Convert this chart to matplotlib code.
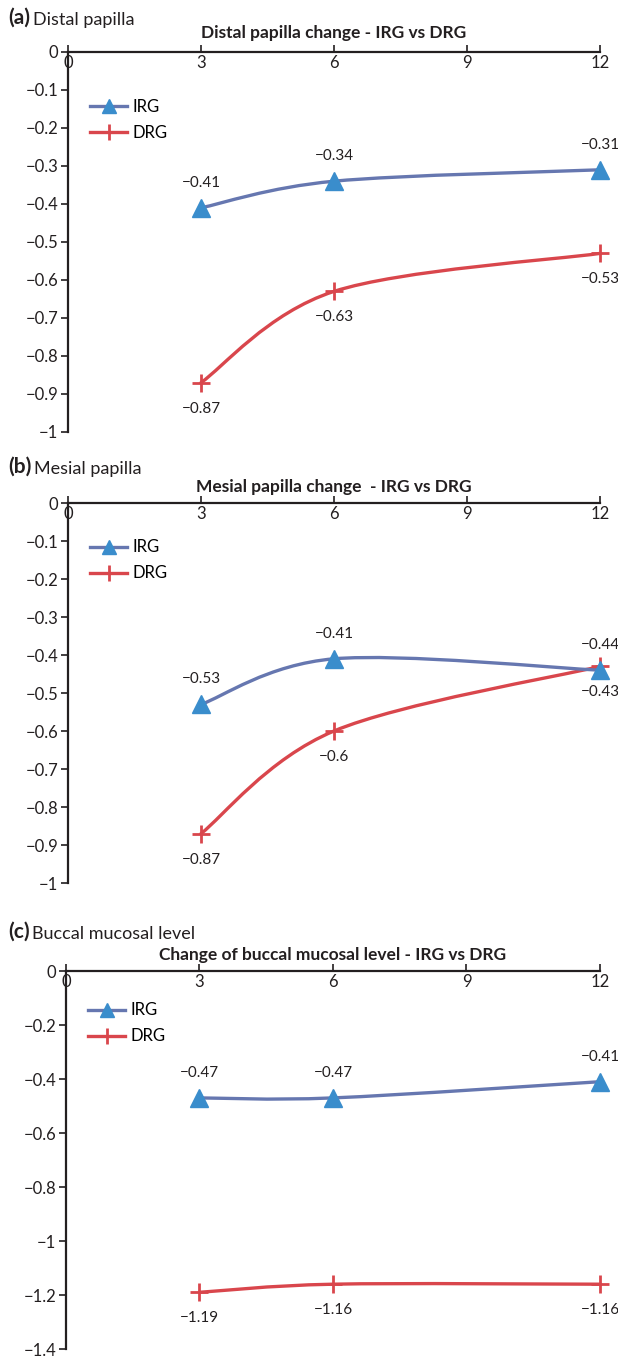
import matplotlib
matplotlib.use("Agg")
import matplotlib.pyplot as plt
from matplotlib.path import Path
from matplotlib.patches import PathPatch
from matplotlib.lines import Line2D
import numpy as np

plt.rcParams['font.family'] = ['Lato', 'DejaVu Sans']
plt.rcParams['axes.unicode_minus'] = True

months = [3, 6, 12]
xticks = [0, 3, 6, 9, 12]

distal_irg = [-0.41, -0.34, -0.31]
distal_drg = [-0.87, -0.63, -0.53]
mesial_irg = [-0.53, -0.41, -0.44]
mesial_drg = [-0.87, -0.60, -0.43]
buccal_irg = [-0.47, -0.47, -0.41]
buccal_drg = [-1.19, -1.16, -1.16]

panel_letters = ['(a)', '(b)', '(c)']
panel_names = ['Distal papilla', 'Mesial papilla', 'Buccal mucosal level']
titles = ['Distal papilla change - IRG vs DRG',
          'Mesial papilla change  - IRG vs DRG',
          'Change of buccal mucosal level - IRG vs DRG']
yticks_list = [np.round(np.arange(0, -1.01, -0.1), 1),
               np.round(np.arange(0, -1.01, -0.1), 1),
               np.round(np.arange(0, -1.41, -0.2), 1)]
series = [(distal_irg, distal_drg), (mesial_irg, mesial_drg), (buccal_irg, buccal_drg)]

IRG_LINE = '#6677B0'
IRG_MARK = '#3A8DCC'
DRG_COL = '#D9464C'
TXT = '#231F20'

W, H = 618, 1358
fig = plt.figure(figsize=(W / 100, H / 100), dpi=100)

# pixel boxes: (left, top, right, bottom)
boxes = [(68, 52, 600, 432), (68, 503, 600, 883), (66, 971, 600, 1349)]
label_y = [18, 467, 932]
title_y = [33, 487, 955]
legend_top = [0.877, 0.904, 0.917]


def smooth_path(xs, ys):
    pts = np.column_stack([xs, ys]).astype(float)
    n = len(pts)
    verts = [pts[0]]
    codes = [Path.MOVETO]
    for i in range(n - 1):
        p_prev = pts[i - 1] if i > 0 else pts[i]
        p_next2 = pts[i + 2] if i + 2 < n else pts[i + 1]
        c1 = pts[i] + (pts[i + 1] - p_prev) / 6.0
        c2 = pts[i + 1] - (p_next2 - pts[i]) / 6.0
        verts += [c1, c2, pts[i + 1]]
        codes += [Path.CURVE4] * 3
    return Path(verts, codes)


def fmt(v):
    s = ('%.2f' % v).rstrip('0').rstrip('.')
    return s.replace('-', '\u2212')


for k in range(3):
    l, t, r, b = boxes[k]
    ax = fig.add_axes([l / W, 1 - b / H, (r - l) / W, (b - t) / H])
    yt = yticks_list[k]
    ax.set_xlim(0, 12)
    ax.set_ylim(yt[-1], 0)
    ax.spines['top'].set_visible(False)
    ax.spines['right'].set_visible(False)
    ax.spines['bottom'].set_position(('data', 0))
    for s in ['left', 'bottom']:
        ax.spines[s].set_linewidth(1.6)
        ax.spines[s].set_color(TXT)
    ax.set_xticks(xticks)
    ax.set_xticklabels([str(x) for x in xticks])
    ax.set_yticks(yt)
    ax.set_yticklabels(['0' if v == 0 else fmt(v) for v in yt])
    ax.tick_params(axis='x', direction='in', length=5, width=1.2, pad=2,
                   labelsize=12, colors=TXT)
    ax.tick_params(axis='y', direction='out', length=5, width=1.2, pad=2,
                   labelsize=12, colors=TXT)
    ax.patch.set_alpha(0)

    irg, drg = series[k]
    for ys, col in [(drg, DRG_COL), (irg, IRG_LINE)]:
        ax.add_patch(PathPatch(smooth_path(months, ys), facecolor='none',
                               edgecolor=col, lw=2.4, clip_on=False,
                               capstyle='round', joinstyle='round'))
    ax.plot(months, drg, linestyle='none', marker='+', markersize=13,
            mew=2, color=DRG_COL, clip_on=False, zorder=4)
    ax.plot(months, irg, linestyle='none', marker='^', markersize=13,
            color=IRG_MARK, mec=IRG_MARK, clip_on=False, zorder=5)

    for x, v in zip(months, irg):
        ax.annotate(fmt(v), (x, v), xytext=(0, 25), textcoords='offset pixels',
                    ha='center', va='center', fontsize=11, color=TXT)
    for x, v in zip(months, drg):
        ax.annotate(fmt(v), (x, v), xytext=(0, -26), textcoords='offset pixels',
                    ha='center', va='center', fontsize=11, color=TXT)

    handles = [Line2D([], [], color=IRG_LINE, lw=2.4, marker='^', markersize=10,
                      markerfacecolor=IRG_MARK, markeredgecolor=IRG_MARK),
               Line2D([], [], color=DRG_COL, lw=2.4, marker='+', markersize=12,
                      mew=2)]
    ax.legend(handles, ['IRG', 'DRG'], loc='upper left',
              bbox_to_anchor=(0.042, legend_top[k]), frameon=False, fontsize=12,
              handlelength=2.2, handletextpad=0.3, labelspacing=0.6,
              borderaxespad=0, borderpad=0)

    fig.text((l + r) / 2 / W, 1 - title_y[k] / H, titles[k],
             ha='center', va='center', fontsize=12.5, fontweight='bold', color=TXT)
    lt = fig.text(8 / W, 1 - label_y[k] / H, panel_letters[k], ha='left', va='center',
                  fontsize=15, fontweight='bold', color=TXT)
    ax.annotate(panel_names[k], xy=(1, 0), xycoords=lt, xytext=(2, 0),
                textcoords='offset points', ha='left', va='bottom',
                fontsize=13, color=TXT, annotation_clip=False)

fig.savefig('out.png', dpi=100)
